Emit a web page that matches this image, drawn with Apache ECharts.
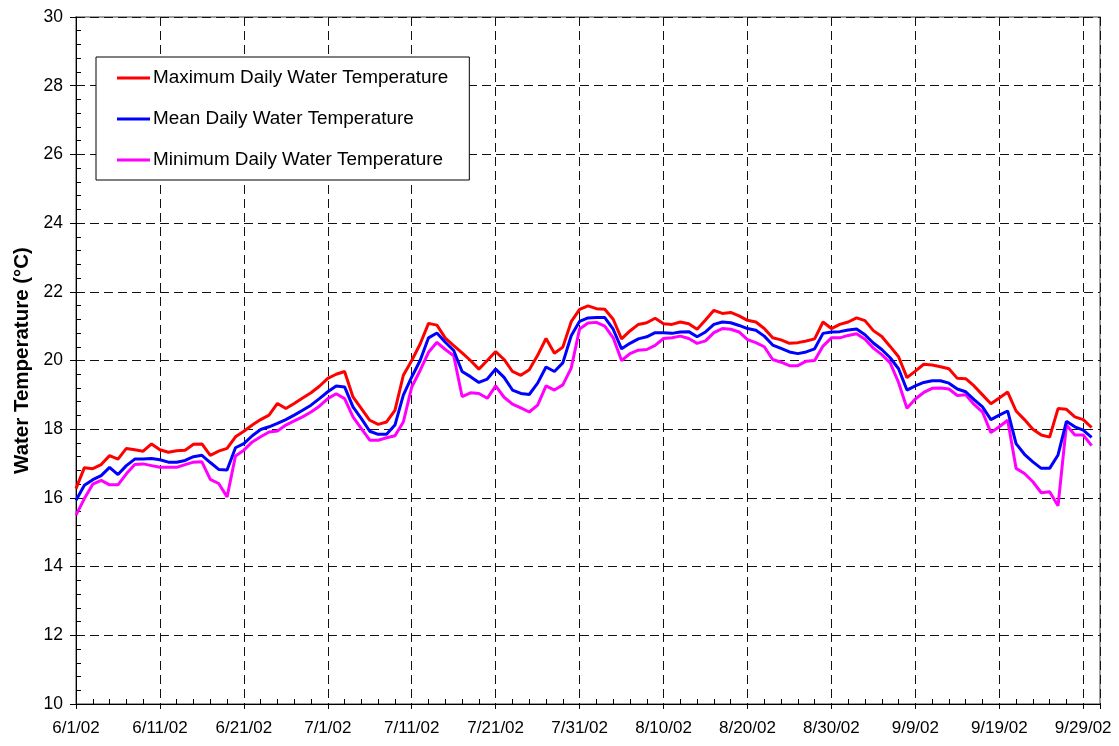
<!DOCTYPE html>
<html>
<head>
<meta charset="utf-8">
<script src="https://cdn.jsdelivr.net/npm/echarts@6/dist/echarts.min.js"></script>
<style>
html,body{margin:0;padding:0;background:#fff;}
#chart{width:1119px;height:746px;}
</style>
</head>
<body>
<div id="chart"></div>
<script>
// Daily series, one value per day starting 6/1/2002 (index 0) through 9/30/2002
const startDate = [2002, 5, 1]; // year, month (0-based), day
const seriesNames = ['Maximum Daily Water Temperature', 'Mean Daily Water Temperature', 'Minimum Daily Water Temperature'];
const maxTemp = [
16.27,16.88,16.85,16.97,17.23,17.13,17.44,17.40,17.36,17.57,
17.40,17.33,17.37,17.39,17.56,17.57,17.24,17.36,17.44,17.78,
17.94,18.12,18.28,18.41,18.75,18.60,18.75,18.91,19.06,19.25,
19.48,19.60,19.68,18.94,18.60,18.26,18.14,18.21,18.55,19.57,
20.00,20.48,21.08,21.03,20.65,20.43,20.22,20.00,19.75,20.00,
20.26,20.03,19.68,19.57,19.73,20.15,20.64,20.21,20.39,21.13,
21.49,21.59,21.51,21.49,21.20,20.63,20.86,21.05,21.10,21.23,
21.07,21.05,21.12,21.07,20.91,21.18,21.46,21.37,21.40,21.30,
21.17,21.12,20.93,20.66,20.60,20.50,20.52,20.57,20.63,21.12,
20.93,21.05,21.12,21.24,21.16,20.87,20.70,20.41,20.11,19.50,
19.69,19.89,19.87,19.82,19.76,19.48,19.47,19.26,19.00,18.74,
18.91,19.08,18.53,18.28,18.00,17.83,17.77,18.60,18.58,18.36,
18.28,18.05];
const meanTemp = [
15.93,16.37,16.53,16.65,16.89,16.68,16.94,17.13,17.13,17.15,
17.11,17.04,17.04,17.09,17.20,17.24,17.03,16.83,16.81,17.46,
17.58,17.81,17.99,18.07,18.17,18.28,18.41,18.55,18.70,18.89,
19.09,19.26,19.23,18.65,18.31,17.94,17.85,17.85,18.12,18.99,
19.52,20.00,20.66,20.80,20.53,20.29,19.68,19.53,19.36,19.46,
19.75,19.51,19.14,19.04,19.01,19.34,19.81,19.68,19.93,20.72,
21.14,21.24,21.25,21.25,20.91,20.34,20.50,20.63,20.69,20.81,
20.81,20.79,20.83,20.84,20.69,20.83,21.05,21.12,21.10,21.02,
20.93,20.88,20.71,20.45,20.35,20.25,20.20,20.25,20.34,20.79,
20.83,20.84,20.89,20.92,20.75,20.51,20.32,20.08,19.76,19.14,
19.26,19.36,19.41,19.41,19.34,19.17,19.09,18.86,18.65,18.28,
18.41,18.53,17.58,17.27,17.05,16.86,16.86,17.25,18.23,18.07,
17.97,17.76];
const minTemp = [
15.50,15.98,16.40,16.51,16.38,16.38,16.70,16.97,16.99,16.94,
16.89,16.89,16.89,16.97,17.04,17.05,16.54,16.42,16.03,17.22,
17.39,17.63,17.78,17.92,17.95,18.12,18.24,18.36,18.50,18.67,
18.89,19.03,18.89,18.36,18.02,17.68,17.68,17.75,17.81,18.21,
19.23,19.71,20.24,20.53,20.32,20.14,18.95,19.06,19.04,18.90,
19.26,18.93,18.73,18.62,18.50,18.70,19.26,19.14,19.29,19.78,
20.92,21.09,21.11,21.00,20.66,20.00,20.20,20.30,20.32,20.44,
20.64,20.66,20.71,20.64,20.50,20.57,20.81,20.93,20.91,20.83,
20.61,20.52,20.40,20.03,19.95,19.85,19.85,19.98,20.00,20.42,
20.66,20.66,20.73,20.78,20.62,20.36,20.17,19.93,19.36,18.61,
18.88,19.07,19.19,19.20,19.17,18.98,19.00,18.72,18.50,17.90,
18.07,18.26,16.86,16.71,16.47,16.15,16.18,15.77,18.12,17.83,
17.83,17.52];
const xAxisMaxDay = 122;   // 10/1/02
const xTickStepDays = 10;
const yMin = 10, yMax = 30, yStep = 2;
const yAxisTitle = 'Water Temperature (°C)';

function dayLabel(v) {
  if (v % xTickStepDays !== 0) return '';
  const d = new Date(startDate[0], startDate[1], startDate[2] + v);
  return (d.getMonth() + 1) + '/' + d.getDate() + '/' + String(d.getFullYear()).slice(2);
}
function toPairs(arr) { return arr.map((v, i) => [i, v]); }

const FONT = '"Liberation Sans", Arial, sans-serif';
const gridLine = { show: true, lineStyle: { color: '#111', width: 1, type: [9, 5] } };

const chart = echarts.init(document.getElementById('chart'), null, { renderer: 'canvas' });
chart.setOption({
  animation: false,
  backgroundColor: '#fff',
  textStyle: { fontFamily: FONT },
  grid: { left: 76, right: 19, top: 17, bottom: 42, show: true, borderColor: '#808080', borderWidth: 1.5, backgroundColor: 'transparent' },
  legend: {
    left: 96, top: 57, orient: 'vertical',
    backgroundColor: '#fff', borderColor: '#000', borderWidth: 1,
    padding: [11, 21, 10, 21], itemGap: 21,
    itemWidth: 33, itemHeight: 3, icon: 'rect',
    textStyle: { fontSize: 18.9, color: '#000', fontFamily: FONT, lineHeight: 20, padding: [0, 0, 0, -2] },
    data: seriesNames
  },
  xAxis: [{
    type: 'value', min: 0, max: xAxisMaxDay, interval: xTickStepDays, position: 'bottom',
    axisLine: { show: true, lineStyle: { color: '#000', width: 1 } },
    axisTick: { show: true, inside: false, length: 5, lineStyle: { color: '#000' } },
    minorTick: { show: false },
    axisLabel: { formatter: dayLabel, fontSize: 17, color: '#000', margin: 16, fontFamily: FONT },
    splitLine: gridLine
  }, {
    type: 'value', min: 0, max: xAxisMaxDay, interval: xTickStepDays, position: 'bottom',
    axisLine: { show: false },
    axisTick: { show: false, inside: true },
    minorTick: { show: true, splitNumber: 5, length: 5, lineStyle: { color: '#000' } },
    axisLabel: { show: false }, splitLine: { show: false }
  }],
  yAxis: [{
    type: 'value', min: yMin, max: yMax, interval: yStep, position: 'left',
    name: yAxisTitle, nameLocation: 'middle', nameGap: 42, nameRotate: 90,
    nameTextStyle: { fontSize: 20.5, fontWeight: 'bold', color: '#000', fontFamily: FONT },
    axisLine: { show: true, lineStyle: { color: '#000', width: 1 } },
    axisTick: { show: true, inside: false, length: 6, lineStyle: { color: '#000' } },
    axisLabel: { fontSize: 17.5, color: '#000', margin: 13, fontFamily: FONT },
    splitLine: gridLine
  }, {
    type: 'value', min: yMin, max: yMax, interval: yStep, position: 'left',
    axisLine: { show: false },
    axisTick: { show: false, inside: true },
    minorTick: { show: true, splitNumber: 5, length: 5, lineStyle: { color: '#000' } },
    axisLabel: { show: false }, splitLine: { show: false }
  }],
  series: [
    { name: seriesNames[0], type: 'line', data: toPairs(maxTemp), showSymbol: false, color: '#FF0000', lineStyle: { width: 3, color: '#FF0000' }, z: 3 },
    { name: seriesNames[1], type: 'line', data: toPairs(meanTemp), showSymbol: false, color: '#0000FF', lineStyle: { width: 3, color: '#0000FF' }, z: 4 },
    { name: seriesNames[2], type: 'line', data: toPairs(minTemp), showSymbol: false, color: '#FF00FF', lineStyle: { width: 3, color: '#FF00FF' }, z: 2 }
  ]
});
</script>
</body>
</html>
